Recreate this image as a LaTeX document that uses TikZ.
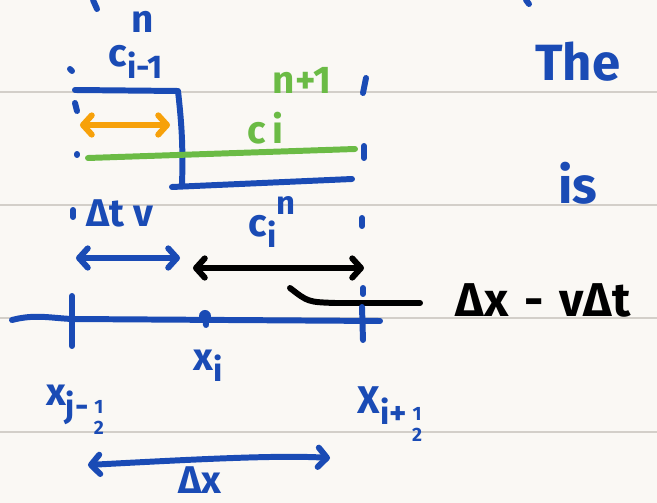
\documentclass[tikz,border=0pt]{standalone}
\usepackage{fontspec}
\setmainfont{Fira Sans}
\usetikzlibrary{arrows.meta}
\definecolor{ink}{HTML}{1A4BB5}
\definecolor{newc}{HTML}{6BBB45}
\definecolor{shiftc}{HTML}{F7A10A}
\definecolor{paper}{HTML}{FAF8F4}
\definecolor{ruling}{HTML}{D3CFC9}
\newcommand{\lowidx}[1]{\raisebox{-0.55ex}{\scalebox{0.85}{#1}}}
\newcommand{\hiidx}[1]{\raisebox{1.1ex}{\scalebox{0.85}{#1}}}
\newcommand{\halfidx}{\kern3pt\raisebox{-1.4ex}{\scalebox{0.5}{\shortstack{1\\[6pt]2}}}}

\begin{document}
\begin{tikzpicture}[x=0.02cm,y=-0.02cm,line width=3.4pt,line cap=round,line join=round,
  >={Straight Barb[round,length=5pt,width=11pt]},
  lbl/.style={font=\fontsize{22}{24}\selectfont\bfseries,inner sep=0pt},
  word/.style={font=\fontsize{29}{32}\selectfont\bfseries,inner sep=0pt}]
  % paper and ruling
  \fill[paper] (0,0) rectangle (657,503);
  \useasboundingbox (0,0) rectangle (657,503);
  \foreach \y in {92,205,318,432}
    \draw[ruling,line width=0.7pt] (0,\y) -- (657,\y);

  % cut-off strokes at the top
  \draw[ink] (93,0) -- (97,9);
  \draw[ink] (526,0) -- (529,4);

  % old step profile
  \coordinate (oldL) at (75,90);
  \coordinate (oldK) at (178,91);
  \coordinate (oldJ) at (182,186);
  \coordinate (oldB) at (172,187);
  \coordinate (oldR) at (352,179);
  \draw[ink] (oldL) -- (oldK) to[bend left=4] (oldJ);
  \draw[ink] (oldB) -- (oldR);
  \node[lbl,ink] (nold) at (143,22) {n};
  \node[lbl,ink] (cim) at (136,62) {c\lowidx{i-1}};

  % new value
  \coordinate (newL) at (88,158);
  \coordinate (newR) at (355,149);
  \draw[newc] (newL) -- (newR);
  \node[lbl,newc] (nnew) at (302,80) {n+1};
  \node[lbl,newc] (ci) at (265,128) {c\,i};
  \coordinate (shL) at (80,125);
  \coordinate (shR) at (170,125);
  \draw[shiftc,<->] (shL) -- (shR);

  % guide marks
  \draw[ink] (70,69) -- (72,71);
  \draw[ink] (75,103) -- (77,111);
  \draw[ink] (77,154) -- (77,155);
  \draw[ink] (73,210) -- (73,217);
  \draw[ink] (366,78) -- (363,93);
  \draw[ink] (364,146) -- (364,158);
  \draw[ink] (362,218) -- (362,226);
  \draw[ink] (363,288) -- (363,294);

  % distances
  \node[lbl,ink] (dtv) at (120,213) {Δt v};
  \node[lbl,ink] (cin) at (272,222) {c\lowidx{i}\hiidx{n}};
  \coordinate (vL) at (76,258);
  \coordinate (vR) at (180,258);
  \draw[ink,<->] (vL) -- (vR);
  \coordinate (restL) at (193,268);
  \coordinate (restR) at (364,268);
  \draw[black,<->] (restL) -- (restR);
  \node[lbl,black,font=\fontsize{27}{30}\selectfont\bfseries] (gap) at (543,300) {Δx\,\,-\,\,vΔt};
  \coordinate (leadA) at (290,288);
  \coordinate (leadB) at (420,303);
  \draw[black] (leadA) .. controls (308,302) .. (335,303) -- (leadB);

  % grid line
  \coordinate (axL) at (12,320);
  \coordinate (axR) at (380,321);
  \draw[ink] (axL) .. controls (35,314) and (50,318) .. (72,319) -- (axR);
  \draw[ink] (72,296) -- (72,346);
  \draw[ink] (362,307) -- (363,340);
  \fill[ink] (205,316) circle (6);
  \draw[ink] (205,316) -- (206,325);
  \node[lbl,ink] (xi) at (208,366) {x\lowidx{i}};
  \node[lbl,ink] (xl) at (75,410) {x\lowidx{j-}\halfidx};
  \node[lbl,ink] (xr) at (390,414) {X\lowidx{i+}\halfidx};

  % cell width
  \coordinate (dxL) at (88,465);
  \coordinate (dxR) at (330,458);
  \draw[ink,<->] (dxL) .. controls (200,459) and (280,455) .. (dxR);
  \node[lbl,ink] (dx) at (200,480) {Δx};

  % words on the right
  \node[word,ink] (the) at (578,62) {The};
  \node[word,ink] (is) at (578,183) {is};
\end{tikzpicture}
\end{document}
